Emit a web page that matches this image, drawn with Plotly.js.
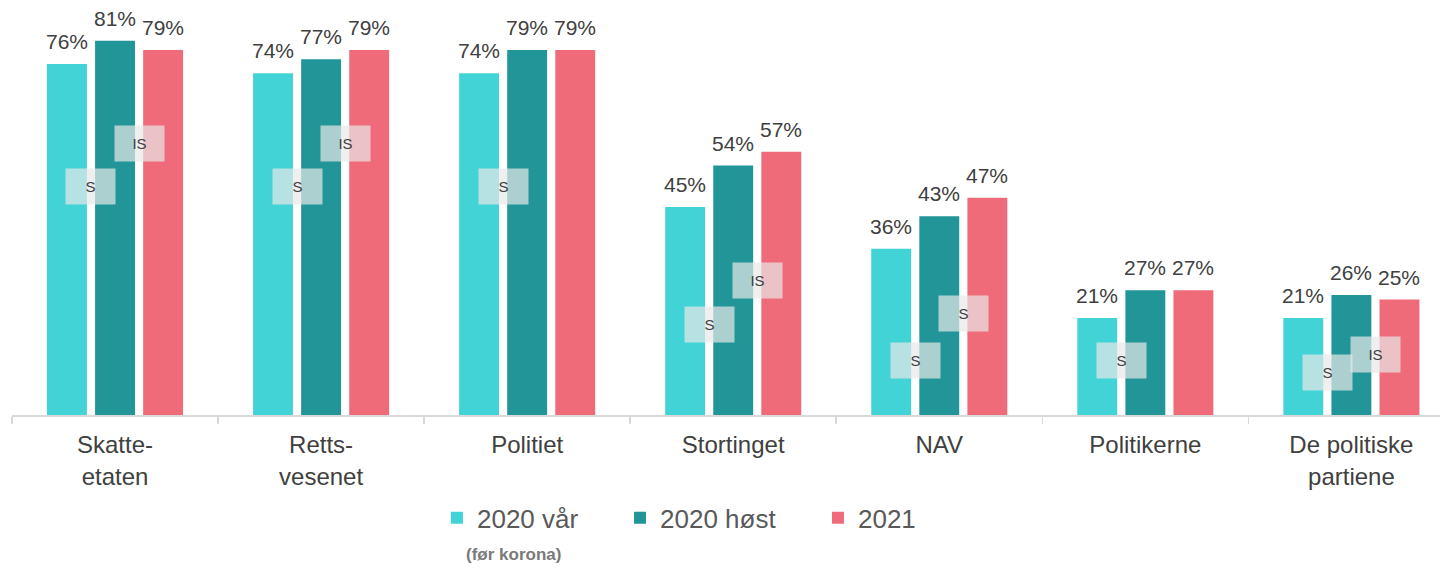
<!DOCTYPE html>
<html>
<head>
<meta charset="utf-8">
<script src="https://cdn.plot.ly/plotly-3.0.1.min.js"></script>
<style>
  html, body { margin: 0; padding: 0; background: #fff; }
  #chart { width: 1440px; height: 576px; }
</style>
</head>
<body>
<div id="chart"></div>
<script>
// categories and survey values (%)
const categories = ["Skatte-<br>etaten", "Retts-<br>vesenet", "Politiet", "Stortinget", "NAV", "Politikerne", "De politiske<br>partiene"];
const seriesNames = ["2020 vår", "2020 høst", "2021"];
const var2020 = [76, 74, 74, 45, 36, 21, 21];
const host2020 = [81, 77, 79, 54, 43, 27, 26];
const y2021 = [79, 79, 79, 57, 47, 27, 25];
const colors = ["#42d3d6", "#219597", "#f06b7a"];

// significance markers: category index, gap (0 = vår/høst, 1 = høst/2021), label, level
const sigCats = [0, 0, 1, 1, 2, 3, 3, 4, 4, 5, 6, 6];
const sigGaps = [0, 1, 0, 1, 0, 0, 1, 0, 1, 0, 0, 1];
const sigText = ["S", "IS", "S", "IS", "S", "S", "IS", "S", "S", "S", "S", "IS"];
const sigLevel = [49.4, 58.7, 49.4, 58.7, 49.4, 19.5, 29.2, 11.7, 21.9, 11.7, 9.3, 13.0];

const allValues = [var2020, host2020, y2021];
const bargap = 0.3;
const slot = (1 - bargap) / 3;
const fontFamily = "Liberation Sans, Arial, sans-serif";

// one legend per series so each entry sits where it does in the original
const legendIds = ["legend", "legend2", "legend3"];
const legendX = [0.2976, 0.4258, 0.5644];

const traces = allValues.map((vals, s) => ({
  type: "bar",
  name: seriesNames[s],
  x: categories,
  y: vals,
  marker: { color: colors[s] },
  legend: legendIds[s],
  hoverinfo: "skip"
}));

const annotations = [];
allValues.forEach((vals, s) => {
  vals.forEach((v, i) => {
    annotations.push({
      x: i + (s - 1) * slot,
      y: v,
      xref: "x",
      yref: "y",
      text: v + "%",
      showarrow: false,
      yanchor: "bottom",
      yshift: 9,
      font: { family: fontFamily, size: 21, color: "#404040" }
    });
  });
});

sigCats.forEach((c, k) => {
  annotations.push({
    x: c + (sigGaps[k] - 0.5) * slot,
    y: sigLevel[k],
    xref: "x",
    yref: "y",
    text: sigText[k],
    showarrow: false,
    width: 47,
    height: 33,
    bgcolor: "rgba(232,232,232,0.7)",
    font: { family: fontFamily, size: 15, color: "#404040" }
  });
});

annotations.push({
  x: 0.3515,
  y: -0.364,
  xref: "paper",
  yref: "paper",
  text: "<b>(før korona)</b>",
  showarrow: false,
  font: { family: fontFamily, size: 17, color: "#7a7a7a" }
});

const layout = {
  width: 1440,
  height: 576,
  margin: { l: 12, r: 0, t: 0, b: 161 },
  paper_bgcolor: "#fff",
  plot_bgcolor: "#fff",
  barmode: "group",
  bargap: bargap,
  bargroupgap: 0.17,
  showlegend: true,
  xaxis: {
    type: "category",
    range: [-0.5, 6.43],
    showline: true,
    linecolor: "#d9d9d9",
    linewidth: 1.5,
    ticks: "outside",
    tickson: "boundaries",
    ticklen: 7,
    tickcolor: "#d9d9d9",
    tickwidth: 1.5,
    ticklabelstandoff: 8,
    showgrid: false,
    tickfont: { family: fontFamily, size: 24, color: "#404040" }
  },
  yaxis: {
    range: [0, 89.83],
    visible: false,
    showgrid: false,
    zeroline: false
  },
  annotations: annotations
};

legendIds.forEach((id, s) => {
  layout[id] = {
    orientation: "h",
    x: legendX[s],
    xanchor: "left",
    y: -0.248,
    yanchor: "middle",
    bgcolor: "rgba(0,0,0,0)",
    font: { family: fontFamily, size: 26, color: "#595959" }
  };
});

Plotly.newPlot("chart", traces, layout, { staticPlot: true });
</script>
</body>
</html>
